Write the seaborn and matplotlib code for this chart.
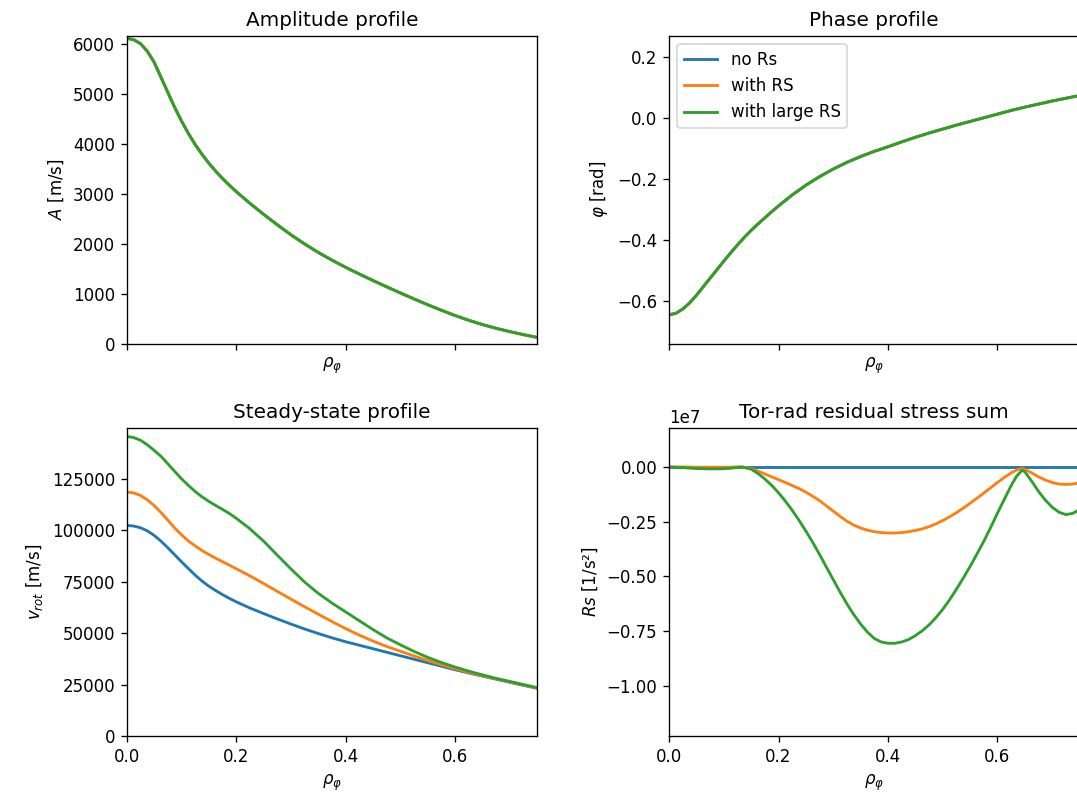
import numpy as np
import pandas as pd
import matplotlib
matplotlib.use("Agg")
import matplotlib.pyplot as plt
from matplotlib.ticker import MultipleLocator
import seaborn as sns

# Radial grid for the profiles (finer near the axis)
rho = [0.0, 0.0125, 0.025, 0.0375, 0.05, 0.0625, 0.075, 0.0875, 0.1, 0.1125,
       0.125, 0.1375, 0.15, 0.1625, 0.175, 0.1875, 0.2, 0.225, 0.25, 0.275,
       0.3, 0.325, 0.35, 0.375, 0.4, 0.425, 0.45, 0.475, 0.5, 0.525, 0.55,
       0.575, 0.6, 0.625, 0.65, 0.675, 0.7, 0.725, 0.75]

# Amplitude profile [m/s] (identical for all runs)
amplitude = [6114, 6089, 6009, 5859, 5640, 5340, 5035, 4735, 4462, 4212,
             3990, 3793, 3614, 3454, 3308, 3172, 3045, 2810, 2590, 2380,
             2180, 1995, 1825, 1670, 1527, 1392, 1262, 1136, 1013, 893, 777,
             666, 561, 465, 380, 305, 238, 178, 122]

# Phase profile [rad] (identical for all runs)
phase = [-0.645, -0.640, -0.626, -0.606, -0.581, -0.553, -0.525, -0.497,
         -0.469, -0.442, -0.416, -0.391, -0.368, -0.347, -0.327, -0.307,
         -0.288, -0.252, -0.220, -0.192, -0.167, -0.145, -0.126, -0.109,
         -0.094, -0.078, -0.063, -0.049, -0.036, -0.023, -0.011, 0.001,
         0.013, 0.025, 0.036, 0.046, 0.056, 0.065, 0.074]

# Steady-state rotation profiles [m/s]
v_no_rs = [102300, 102000, 101200, 99700, 97500, 94700, 91500, 88100, 84700,
           81400, 78200, 75300, 72800, 70700, 68700, 66900, 65200, 62200,
           59500, 56900, 54400, 52000, 49800, 47700, 45800, 44100, 42400,
           40700, 39000, 37300, 35600, 33900, 32200, 30600, 29100, 27600,
           26100, 24600, 23200]
v_rs = [118500, 118100, 116900, 114800, 112000, 108600, 104900, 101100,
        97800, 94800, 92400, 90100, 88200, 86400, 84700, 83000, 81300, 77800,
        74100, 70300, 66500, 62800, 59200, 55600, 52200, 49000, 46100, 43500,
        41200, 38900, 36700, 34600, 32700, 30900, 29300, 27800, 26300, 24800,
        23300]
v_large_rs = [145500, 145000, 143700, 141500, 138800, 135900, 132300, 128600,
              125000, 121800, 118800, 116200, 114000, 112000, 110100, 108100,
              105800, 100700, 94700, 87900, 81200, 74800, 69300, 64600, 60300,
              56000, 51700, 47700, 44300, 41100, 38200, 35700, 33500, 31500,
              29700, 28000, 26500, 25000, 23500]

# Residual stress sum grid (refined around the features) and values [1e7 1/s^2]
rho_rs = [0.0, 0.025, 0.05, 0.075, 0.1, 0.1125, 0.125, 0.133,
          0.15, 0.1625, 0.175, 0.1875, 0.2, 0.2125, 0.225, 0.2375, 0.25,
          0.2625, 0.275, 0.2875, 0.3, 0.3125, 0.325, 0.3375, 0.35, 0.3625,
          0.375, 0.3875, 0.4, 0.4125, 0.425, 0.4375, 0.45, 0.4625, 0.475,
          0.4875, 0.5, 0.5125, 0.525, 0.5375, 0.55, 0.5625, 0.575, 0.5875,
          0.6, 0.6125, 0.625,
          0.635, 0.645, 0.65, 0.6625, 0.675, 0.6875, 0.7, 0.7125, 0.725,
          0.7375, 0.75]
rs_no = [0.0] * len(rho_rs)
rs_with = [0.0, 0.0, -0.001, -0.001, -0.001, -0.001, 0.0, 0.0,
           -0.007, -0.019, -0.032, -0.045, -0.058, -0.071, -0.085, -0.099,
           -0.115, -0.134, -0.154, -0.178, -0.202, -0.226, -0.248, -0.266,
           -0.279, -0.289, -0.296, -0.300, -0.302, -0.302, -0.300, -0.296,
           -0.290, -0.283, -0.273, -0.260, -0.245, -0.228, -0.209, -0.188,
           -0.166, -0.143, -0.119, -0.095, -0.071, -0.048, -0.027,
           -0.014, -0.007, -0.011, -0.027, -0.045, -0.060, -0.071, -0.078,
           -0.080, -0.078, -0.072]
rs_large = [0.0, -0.003, -0.007, -0.009, -0.008, -0.006, -0.002, 0.0,
            -0.010, -0.030, -0.055, -0.084, -0.118, -0.156, -0.198, -0.244,
            -0.293, -0.345, -0.400, -0.458, -0.515, -0.572, -0.626, -0.675,
            -0.718, -0.755, -0.784, -0.800, -0.806, -0.806, -0.800, -0.789,
            -0.771, -0.749, -0.722, -0.689, -0.651, -0.607, -0.559, -0.508,
            -0.455, -0.398, -0.340, -0.277, -0.211, -0.148, -0.085,
            -0.042, -0.015, -0.022, -0.065, -0.112, -0.152, -0.184, -0.207,
            -0.218, -0.212, -0.195]

labels = ["no Rs", "with RS", "with large RS"]
palette = dict(zip(labels, sns.color_palette("tab10", 3)))


def long_frame(x, series):
    parts = []
    for name, vals in zip(labels, series):
        parts.append(pd.DataFrame({"rho": x, "val": vals, "case": name}))
    return pd.concat(parts, ignore_index=True)


df_amp = long_frame(rho, [amplitude, amplitude, amplitude])
df_phase = long_frame(rho, [phase, phase, phase])
df_v = long_frame(rho, [v_no_rs, v_rs, v_large_rs])
df_rs = long_frame(rho_rs, [rs_no, rs_with, rs_large])
df_rs["val"] = df_rs["val"] * 1e7

DPI = 120
fig = plt.figure(figsize=(1077 / DPI, 803 / DPI), dpi=DPI)
w, h = 0.3812, 0.3833
ax_amp = fig.add_axes([0.1176, 0.5722, w, h])
ax_phase = fig.add_axes([0.6212, 0.5722, w, h], sharex=ax_amp)
ax_v = fig.add_axes([0.1176, 0.0834, w, h], sharex=ax_amp)
ax_rs = fig.add_axes([0.6212, 0.0834, w, h], sharex=ax_amp)

common = dict(x="rho", y="val", hue="case", palette=palette,
              hue_order=labels, linewidth=1.7, estimator=None)

sns.lineplot(data=df_amp, ax=ax_amp, legend=False, **common)
sns.lineplot(data=df_phase, ax=ax_phase, legend=True, **common)
sns.lineplot(data=df_v, ax=ax_v, legend=False, **common)
sns.lineplot(data=df_rs, ax=ax_rs, legend=False, **common)

xlab = r"$\rho_\varphi$"
ax_amp.set(title="Amplitude profile", xlabel=xlab, ylabel=r"$A$ [m/s]",
           ylim=(0, 6166))
ax_phase.set(title="Phase profile", xlabel=xlab, ylabel=r"$\varphi$ [rad]",
             ylim=(-0.739, 0.27))
ax_v.set(title="Steady-state profile", xlabel=xlab,
         ylabel=r"$v_{rot}$ [m/s]", ylim=(0, 149500))
ax_rs.set(title="Tor-rad residual stress sum", xlabel=xlab,
          ylabel=r"$Rs$ [1/s²]", ylim=(-1.23e7, 0.177e7))
ax_amp.set_xlim(0, 0.75)
ax_amp.xaxis.set_major_locator(MultipleLocator(0.2))
ax_amp.yaxis.set_major_locator(MultipleLocator(1000))
ax_phase.yaxis.set_major_locator(MultipleLocator(0.2))
ax_v.yaxis.set_major_locator(MultipleLocator(25000))
ax_rs.yaxis.set_major_locator(MultipleLocator(0.25e7))

for ax in (ax_amp, ax_phase):
    ax.tick_params(labelbottom=False)

ax_phase.legend(loc="upper left", title=None)

fig.savefig("out.png", dpi=DPI)
